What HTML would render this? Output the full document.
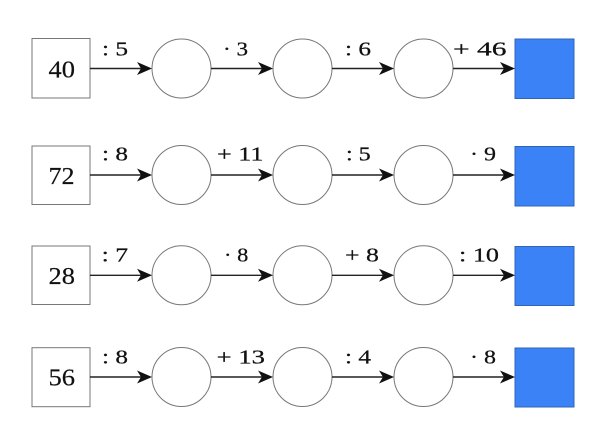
<!DOCTYPE html>
<html><head><meta charset="utf-8"><style>
html,body{margin:0;padding:0;background:#fff;}
svg{display:block;}
text{font-family:"Liberation Serif",serif;fill:#111;}
.l{font-size:20.5px;stroke:#111;stroke-width:0.25px;}
.n{font-size:24.5px;stroke:#111;stroke-width:0.2px;}
</style></head><body>
<svg width="609" height="434" viewBox="0 0 609 434" xmlns="http://www.w3.org/2000/svg">
<defs>
<g id="ah"><path d="M0,0 L-15,-6.5 L-11,0 L-15,6.5 Z" fill="#111"/></g>
</defs>

<!-- Row 1 -->
<g>
<rect x="32" y="38.5" width="58" height="59.5" fill="#fff" stroke="#777" stroke-width="1"/>
<circle cx="181.5" cy="68.5" r="29.5" fill="#fff" stroke="#777" stroke-width="1"/>
<circle cx="302.5" cy="68.5" r="29.5" fill="#fff" stroke="#777" stroke-width="1"/>
<circle cx="423.5" cy="68.5" r="29.5" fill="#fff" stroke="#777" stroke-width="1"/>
<rect x="515" y="39" width="59" height="59.5" fill="#3b82f6" stroke="#2f64b8" stroke-width="1"/>
<g stroke="#222" stroke-width="1.4">
<line x1="90" y1="68.5" x2="142" y2="68.5"/>
<line x1="211" y1="68.5" x2="263" y2="68.5"/>
<line x1="332" y1="68.5" x2="384" y2="68.5"/>
<line x1="453" y1="68.5" x2="505" y2="68.5"/>
</g>
<use href="#ah" x="152" y="68.5"/><use href="#ah" x="273" y="68.5"/><use href="#ah" x="394" y="68.5"/><use href="#ah" x="515" y="68.5"/>
<text class="n" x="48.5" y="77.5" textLength="26.5" lengthAdjust="spacingAndGlyphs">40</text>
<text class="l" x="102" y="55.5" textLength="26" lengthAdjust="spacingAndGlyphs">: 5</text>
<text class="l" x="223" y="55.5" textLength="25" lengthAdjust="spacingAndGlyphs">· 3</text>
<text class="l" x="345" y="55.5" textLength="26" lengthAdjust="spacingAndGlyphs">: 6</text>
<text class="l" x="453" y="55.5" textLength="53.5" lengthAdjust="spacingAndGlyphs">+ 46</text>
</g>

<!-- Row 2 -->
<g>
<rect x="32" y="146" width="58" height="58.5" fill="#fff" stroke="#777" stroke-width="1"/>
<circle cx="181.5" cy="175" r="29.5" fill="#fff" stroke="#777" stroke-width="1"/>
<circle cx="302.5" cy="175" r="29.5" fill="#fff" stroke="#777" stroke-width="1"/>
<circle cx="423.5" cy="175" r="29.5" fill="#fff" stroke="#777" stroke-width="1"/>
<rect x="515" y="146.5" width="59" height="59.5" fill="#3b82f6" stroke="#2f64b8" stroke-width="1"/>
<g stroke="#222" stroke-width="1.4">
<line x1="90" y1="175" x2="142" y2="175"/>
<line x1="211" y1="175" x2="263" y2="175"/>
<line x1="332" y1="175" x2="384" y2="175"/>
<line x1="453" y1="175" x2="505" y2="175"/>
</g>
<use href="#ah" x="152" y="175"/><use href="#ah" x="273" y="175"/><use href="#ah" x="394" y="175"/><use href="#ah" x="515" y="175"/>
<text class="n" x="48.5" y="184" textLength="26" lengthAdjust="spacingAndGlyphs">72</text>
<text class="l" x="102" y="160.5" textLength="26" lengthAdjust="spacingAndGlyphs">: 8</text>
<text class="l" x="217" y="160.5" textLength="46.5" lengthAdjust="spacingAndGlyphs">+ 11</text>
<text class="l" x="346" y="160.5" textLength="24.7" lengthAdjust="spacingAndGlyphs">: 5</text>
<text class="l" x="470" y="160.5" textLength="26" lengthAdjust="spacingAndGlyphs">· 9</text>
</g>

<!-- Row 3 -->
<g>
<rect x="32" y="246" width="58" height="58.5" fill="#fff" stroke="#777" stroke-width="1"/>
<circle cx="181.5" cy="275.3" r="29.5" fill="#fff" stroke="#777" stroke-width="1"/>
<circle cx="302.5" cy="275.3" r="29.5" fill="#fff" stroke="#777" stroke-width="1"/>
<circle cx="423.5" cy="275.3" r="29.5" fill="#fff" stroke="#777" stroke-width="1"/>
<rect x="515" y="246.5" width="59" height="59" fill="#3b82f6" stroke="#2f64b8" stroke-width="1"/>
<g stroke="#222" stroke-width="1.4">
<line x1="90" y1="275.3" x2="142" y2="275.3"/>
<line x1="211" y1="275.3" x2="263" y2="275.3"/>
<line x1="332" y1="275.3" x2="384" y2="275.3"/>
<line x1="453" y1="275.3" x2="505" y2="275.3"/>
</g>
<use href="#ah" x="152" y="275.3"/><use href="#ah" x="273" y="275.3"/><use href="#ah" x="394" y="275.3"/><use href="#ah" x="515" y="275.3"/>
<text class="n" x="48.5" y="284" textLength="26.5" lengthAdjust="spacingAndGlyphs">28</text>
<text class="l" x="101.7" y="261.5" textLength="26.5" lengthAdjust="spacingAndGlyphs">: 7</text>
<text class="l" x="224" y="261.5" textLength="24.3" lengthAdjust="spacingAndGlyphs">· 8</text>
<text class="l" x="345" y="261.5" textLength="34" lengthAdjust="spacingAndGlyphs">+ 8</text>
<text class="l" x="459" y="261.5" textLength="40" lengthAdjust="spacingAndGlyphs">: 10</text>
</g>

<!-- Row 4 -->
<g>
<rect x="32" y="347.7" width="58" height="59" fill="#fff" stroke="#777" stroke-width="1"/>
<circle cx="181.5" cy="377" r="29.5" fill="#fff" stroke="#777" stroke-width="1"/>
<circle cx="302.5" cy="377" r="29.5" fill="#fff" stroke="#777" stroke-width="1"/>
<circle cx="423.5" cy="377" r="29.5" fill="#fff" stroke="#777" stroke-width="1"/>
<rect x="515" y="348" width="59" height="59" fill="#3b82f6" stroke="#2f64b8" stroke-width="1"/>
<g stroke="#222" stroke-width="1.4">
<line x1="90" y1="377" x2="142" y2="377"/>
<line x1="211" y1="377" x2="263" y2="377"/>
<line x1="332" y1="377" x2="384" y2="377"/>
<line x1="453" y1="377" x2="505" y2="377"/>
</g>
<use href="#ah" x="152" y="377"/><use href="#ah" x="273" y="377"/><use href="#ah" x="394" y="377"/><use href="#ah" x="515" y="377"/>
<text class="n" x="48.5" y="385.7" textLength="26.5" lengthAdjust="spacingAndGlyphs">56</text>
<text class="l" x="102" y="363.3" textLength="26" lengthAdjust="spacingAndGlyphs">: 8</text>
<text class="l" x="216.7" y="363.3" textLength="48.3" lengthAdjust="spacingAndGlyphs">+ 13</text>
<text class="l" x="345" y="363.3" textLength="26" lengthAdjust="spacingAndGlyphs">: 4</text>
<text class="l" x="470" y="363.3" textLength="26" lengthAdjust="spacingAndGlyphs">· 8</text>
</g>
</svg>
</body></html>
